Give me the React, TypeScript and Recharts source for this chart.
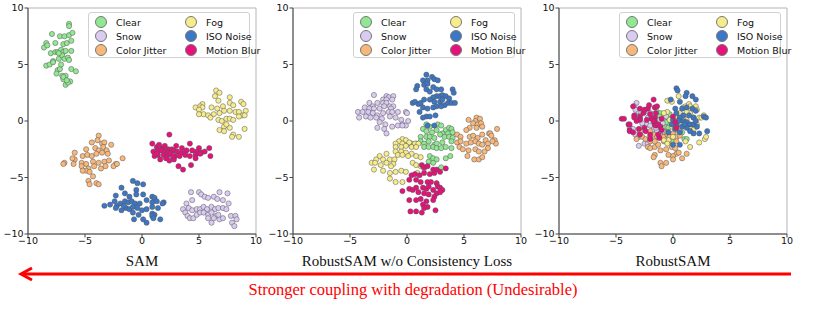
import React from 'react';
import { ScatterChart, Scatter, XAxis, YAxis, ReferenceArea } from 'recharts';

type Pt = [number, number];

// series (legend order is column-first, two columns)
const seriesNames = ['Clear', 'Snow', 'Color Jitter', 'Fog', 'ISO Noise', 'Motion Blur'];
const seriesColors = ['#92E892', '#DACBF2', '#F8B87C', '#F7EC8C', '#3C77C6', '#E6117A'];
const panelTitles = ['SAM', 'RobustSAM w/o Consistency Loss', 'RobustSAM'];
const axisTicks = [-10, -5, 0, 5, 10];

// ---- SAM ----
const samClear: Pt[] = [[-6.4,8.6],[-6.4,8.4],[-7.9,7.7],[-7.2,7.5],[-6.8,7.5],[-6.4,7.6],[-6.1,7.8],[-8.4,6.9],[-7.6,6.9],[-6.9,6.8],[-6.6,6.9],[-6.2,7.1],[-8.6,6.5],[-8.3,6.7],[-8.0,6.0],[-7.6,6.1],[-7.4,6.1],[-7.1,6.3],[-6.9,6.1],[-6.7,6.2],[-6.2,6.2],[-7.8,5.3],[-7.3,5.5],[-7.0,5.8],[-6.8,5.5],[-6.5,5.6],[-6.4,5.4],[-8.4,4.9],[-8.1,5.0],[-7.8,5.2],[-7.4,4.5],[-7.2,4.6],[-7.1,5.0],[-6.2,4.6],[-5.8,4.4],[-7.0,4.0],[-6.9,3.7],[-6.7,4.0],[-6.3,3.5],[-6.7,3.2],[-6.5,3.4],[-6.9,3.9],[-7.3,6.0],[-7.5,4.2],[-6.6,3.6]];
const samSnow: Pt[] = [[4.3,-6.3],[5.0,-6.3],[5.2,-6.5],[6.8,-6.3],[7.5,-6.4],[5.5,-6.7],[5.8,-6.8],[6.3,-6.7],[6.6,-6.9],[7.1,-7.0],[7.6,-7.3],[4.4,-7.0],[3.9,-7.3],[3.6,-7.8],[4.1,-7.7],[4.4,-7.9],[4.8,-7.8],[5.1,-7.8],[5.4,-7.6],[5.7,-7.8],[6.1,-7.6],[6.4,-7.8],[6.7,-7.7],[7.1,-7.7],[7.4,-7.8],[3.8,-8.1],[4.0,-8.4],[4.2,-8.6],[4.5,-8.6],[4.8,-8.3],[5.1,-8.1],[5.4,-8.1],[5.8,-8.3],[6.1,-8.1],[6.5,-8.4],[6.8,-8.7],[7.1,-8.6],[7.8,-8.4],[8.2,-8.4],[7.9,-9.0],[8.1,-9.3],[8.3,-8.7],[6.1,-9.0],[6.3,-8.6],[6.7,-8.3],[5.8,-8.6]];
const samJitter: Pt[] = [[-3.8,-1.3],[-4.4,-1.9],[-3.9,-1.7],[-3.5,-2.0],[-3.3,-1.9],[-2.7,-2.1],[-4.9,-2.5],[-4.1,-2.4],[-3.8,-2.6],[-3.4,-2.3],[-3.1,-2.6],[-5.9,-2.8],[-5.2,-3.1],[-4.8,-3.0],[-4.4,-3.1],[-4.0,-2.9],[-3.5,-2.8],[-5.9,-3.4],[-6.8,-3.7],[-6.1,-3.3],[-5.3,-3.7],[-4.9,-3.8],[-4.3,-3.6],[-3.8,-3.7],[-3.3,-3.6],[-2.9,-3.5],[-2.3,-3.8],[-1.7,-3.3],[-6.9,-3.8],[-6.0,-3.8],[-5.3,-4.0],[-4.7,-4.2],[-4.2,-4.0],[-3.6,-4.2],[-3.2,-4.0],[-2.5,-4.0],[-2.2,-3.8],[-4.9,-4.4],[-4.6,-4.5],[-4.3,-4.9],[-4.7,-5.3],[-4.6,-5.6],[-4.0,-5.5],[-3.8,-5.6],[-5.2,-4.4],[-3.0,-2.9]];
const samFog: Pt[] = [[6.5,2.7],[6.8,2.5],[7.7,2.1],[6.4,2.2],[6.7,1.8],[5.3,1.5],[5.1,1.3],[5.3,1.2],[4.7,1.2],[5.0,1.0],[6.1,1.2],[6.6,1.1],[7.1,1.3],[7.7,1.6],[8.0,1.4],[8.7,1.7],[8.9,1.5],[9.1,0.9],[8.8,0.5],[7.2,0.9],[6.8,0.7],[7.7,0.9],[8.2,0.8],[8.5,0.8],[5.4,0.6],[5.0,0.6],[5.8,0.5],[6.3,0.6],[6.7,0.1],[7.0,0.0],[7.4,0.2],[7.7,0.2],[8.0,0.1],[8.5,0.4],[9.0,0.5],[7.2,-0.5],[6.8,-0.8],[7.2,-0.9],[7.7,-0.6],[8.0,-1.2],[8.5,-1.4],[9.0,-0.7],[7.9,-1.4],[6.0,0.3],[7.4,-0.3]];
const samIso: Pt[] = [[-0.8,-5.3],[-0.4,-5.5],[0.1,-5.6],[-1.8,-5.9],[-0.5,-6.1],[-1.5,-6.4],[-1.1,-6.7],[-2.3,-6.6],[-0.5,-6.5],[0.1,-6.5],[0.9,-6.7],[1.1,-6.8],[1.9,-7.2],[-3.3,-7.5],[-2.8,-7.4],[-2.4,-7.1],[-2.2,-7.5],[-1.9,-7.3],[-1.5,-7.1],[-1.2,-7.2],[-0.9,-7.1],[-0.6,-7.3],[-0.2,-7.3],[0.4,-7.0],[0.9,-7.2],[1.3,-7.1],[1.8,-7.3],[-2.3,-7.7],[-1.8,-7.9],[-1.4,-7.7],[-1.1,-7.8],[-0.8,-7.6],[-0.4,-7.7],[0.0,-7.9],[0.4,-7.8],[0.9,-7.6],[1.4,-7.7],[-0.8,-8.1],[-0.3,-8.3],[0.9,-8.2],[1.1,-8.3],[-0.7,-8.7],[0.1,-8.7],[0.4,-9.0],[0.9,-8.4],[1.6,-8.7],[1.0,-8.6],[-1.6,-7.5]];
const samBlur: Pt[] = [[2.4,-1.2],[0.9,-2.0],[1.3,-2.3],[1.5,-2.1],[1.8,-2.4],[2.0,-2.2],[2.3,-2.5],[2.6,-2.5],[3.0,-2.2],[3.5,-2.4],[4.2,-2.0],[5.0,-2.4],[5.9,-2.4],[1.0,-2.7],[1.4,-2.6],[1.7,-2.6],[2.1,-2.7],[2.3,-2.8],[2.8,-2.6],[3.1,-2.7],[3.5,-2.8],[3.9,-2.6],[4.4,-2.6],[4.8,-2.7],[5.2,-2.8],[5.5,-2.7],[6.0,-3.1],[1.1,-3.1],[1.4,-3.0],[1.9,-3.0],[2.2,-3.1],[2.5,-2.9],[2.9,-3.1],[3.3,-3.1],[3.8,-3.0],[4.2,-3.1],[4.7,-3.0],[5.1,-2.9],[1.6,-3.4],[2.1,-3.3],[2.4,-3.5],[2.8,-3.4],[3.2,-4.0],[3.6,-4.3],[4.3,-3.9],[4.7,-3.3],[1.3,-2.9],[2.7,-3.1]];

// ---- RobustSAM w/o Consistency Loss ----
const woClear: Pt[] = [[1.7,-0.3],[2.0,-0.5],[2.7,-0.3],[3.0,-0.4],[3.4,-0.8],[3.7,-0.6],[3.9,-0.7],[1.4,-0.7],[1.7,-0.9],[2.2,-1.0],[2.6,-0.8],[3.1,-1.1],[3.6,-1.1],[4.0,-1.0],[1.2,-1.4],[1.7,-1.4],[2.0,-1.4],[2.4,-1.5],[2.9,-1.2],[3.3,-1.4],[3.7,-1.4],[4.0,-1.5],[0.8,-2.0],[1.2,-1.8],[1.5,-2.0],[1.9,-1.8],[2.4,-2.1],[2.6,-2.0],[3.1,-1.9],[3.9,-1.8],[1.5,-2.3],[1.9,-2.3],[2.3,-2.3],[2.6,-2.4],[3.0,-2.4],[3.4,-2.3],[3.9,-2.4],[2.0,-3.1],[2.3,-3.3],[2.6,-3.4],[1.9,-3.6],[2.3,-3.7],[3.0,-4.1],[3.4,-3.3],[3.8,-3.1],[0.4,-2.0],[0.1,-2.0],[-0.1,-1.8]];
const woSnow: Pt[] = [[-2.9,2.3],[-1.8,2.2],[-1.6,2.1],[-1.2,2.2],[-2.1,1.9],[-1.8,1.9],[-1.3,1.9],[-3.3,1.6],[-3.0,1.3],[-2.6,1.6],[-2.1,1.6],[-1.8,1.6],[-1.5,1.3],[-1.2,1.3],[-3.7,1.2],[-3.3,1.1],[-2.9,1.1],[-2.4,1.1],[-2.0,1.3],[-1.4,1.1],[-4.3,0.8],[-3.9,0.8],[-3.4,0.8],[-3.0,0.7],[-2.6,0.5],[-2.1,0.7],[-1.6,0.8],[-1.3,0.8],[-0.8,0.8],[-0.1,0.8],[0.0,0.7],[-4.2,0.3],[-3.6,0.4],[-3.2,0.3],[-2.7,0.3],[-2.2,0.2],[-1.5,0.4],[-1.0,0.3],[-0.5,0.1],[-0.4,-0.3],[-0.1,-0.4],[0.1,0.0],[-2.4,-0.1],[-1.9,-0.3],[-2.6,-0.6],[-2.0,-0.7],[-1.8,-1.1],[-0.8,-0.4],[-0.4,-0.4],[-1.3,-0.5]];
const woJitter: Pt[] = [[6.1,0.3],[5.4,0.1],[6.0,0.0],[6.4,0.2],[5.8,-0.2],[6.2,-0.3],[6.5,-0.2],[7.2,-1.1],[7.9,-0.7],[7.3,-1.1],[6.6,-0.5],[6.1,-0.6],[5.5,-0.6],[5.2,-0.8],[4.4,-1.2],[4.7,-1.4],[5.5,-1.4],[5.8,-1.3],[6.2,-1.5],[6.6,-1.2],[6.9,-1.7],[7.4,-1.3],[7.7,-1.7],[7.8,-2.0],[4.4,-1.9],[4.6,-2.3],[5.2,-2.0],[5.6,-1.9],[6.0,-1.8],[6.3,-2.0],[6.6,-2.1],[7.1,-2.0],[7.5,-1.8],[4.9,-2.5],[5.4,-2.6],[6.0,-2.5],[6.3,-2.7],[6.8,-2.7],[5.3,-3.1],[5.9,-3.4],[6.3,-3.4],[6.6,-3.2],[4.7,-1.8],[7.1,-2.4]];
const woFog: Pt[] = [[-0.4,-1.6],[-0.1,-1.7],[-0.7,-1.8],[-1.0,-2.0],[-0.4,-2.0],[0.2,-1.9],[0.7,-2.0],[1.0,-2.0],[-1.0,-2.3],[-0.5,-2.3],[-0.1,-2.2],[0.4,-2.3],[0.8,-2.3],[-1.0,-2.7],[-0.5,-2.7],[-0.1,-2.8],[0.4,-2.9],[-0.8,-3.0],[-0.4,-3.0],[0.1,-3.1],[0.8,-3.1],[1.2,-3.2],[-1.8,-2.9],[-2.4,-3.1],[-2.7,-3.4],[-2.1,-3.4],[-1.5,-3.4],[-1.1,-3.4],[-3.1,-3.7],[-2.8,-3.7],[-2.3,-3.9],[-1.8,-3.7],[-1.2,-3.8],[0.5,-3.7],[0.8,-3.9],[1.2,-4.0],[1.5,-4.2],[-2.9,-4.3],[-2.1,-4.4],[-1.5,-4.6],[-1.0,-4.5],[-0.5,-4.4],[-0.1,-4.5],[-1.5,-5.1],[-1.0,-5.4],[-0.4,-5.4],[0.9,-4.6],[-1.4,-4.0]];
const woIso: Pt[] = [[1.7,4.1],[2.2,3.9],[1.4,3.6],[1.8,3.6],[2.4,3.7],[2.7,3.6],[0.9,3.1],[1.5,3.2],[1.8,3.3],[2.3,3.0],[2.6,2.8],[0.8,2.8],[1.7,2.8],[2.0,2.6],[3.0,2.8],[4.0,2.8],[4.1,2.5],[2.6,2.2],[2.9,2.2],[3.1,2.3],[3.4,2.2],[3.7,2.0],[2.3,2.1],[0.5,1.6],[0.7,1.7],[1.0,1.5],[1.2,1.6],[1.5,1.9],[2.0,1.9],[2.4,1.7],[2.9,1.7],[3.3,1.4],[3.6,1.6],[3.9,1.6],[4.2,1.6],[1.4,1.2],[1.8,1.1],[2.3,1.2],[2.6,1.3],[3.0,1.3],[1.7,0.4],[2.0,0.4],[2.5,0.5],[1.4,0.3],[1.8,-0.4],[2.4,-0.4],[1.1,0.8],[3.1,1.9]];
const woBlur: Pt[] = [[1.3,-3.9],[1.5,-4.1],[1.8,-4.0],[2.3,-4.3],[2.6,-4.3],[2.9,-4.5],[3.4,-4.2],[0.4,-4.8],[0.7,-4.7],[1.1,-4.8],[1.5,-4.6],[2.0,-4.7],[2.4,-4.6],[0.2,-5.2],[0.8,-5.2],[1.2,-5.4],[1.8,-5.4],[2.1,-5.4],[2.6,-5.5],[2.7,-5.8],[2.9,-5.9],[3.1,-6.1],[-0.4,-6.2],[0.2,-6.0],[0.5,-6.1],[0.8,-5.9],[1.4,-5.9],[1.7,-6.0],[2.3,-6.1],[2.6,-6.4],[1.0,-6.3],[1.5,-6.4],[1.9,-6.5],[2.4,-6.7],[0.2,-7.0],[0.8,-7.0],[1.2,-6.9],[1.7,-7.1],[2.3,-7.0],[1.4,-7.4],[1.8,-7.6],[2.5,-7.9],[0.3,-8.0],[0.8,-8.0],[1.3,-8.1],[1.5,-7.7],[2.9,-6.3],[1.9,-5.8]];

// ---- RobustSAM ----
const rsClear: Pt[] = [[-1.4,0.8],[-1.1,0.7],[-0.8,0.5],[-0.7,0.3],[-0.5,0.2],[-0.8,0.1],[-1.0,-0.2],[-0.4,-0.3],[-1.3,-0.3],[-0.7,-0.9],[1.0,-1.6],[1.2,-1.6],[-0.1,-1.8],[-0.4,-0.6],[-1.7,-0.2],[0.6,0.1],[0.0,0.3],[-1.2,0.4],[-0.3,0.6],[0.3,-0.4],[-0.9,-0.5],[-0.2,-1.2],[0.8,-1.0],[-1.5,0.2],[-0.6,-0.1],[0.2,-0.8],[-1.1,-1.0],[0.5,-0.3]];
const rsSnow: Pt[] = [[-3.2,1.6],[-3.4,1.3],[-3.3,1.0],[-3.2,0.5],[-3.8,-0.6],[-3.5,-0.7],[-3.0,-2.2],[-3.3,-1.2],[-2.9,-1.1],[-2.6,-0.5],[-2.3,-0.3],[-2.0,-0.4],[-1.7,-0.8],[-2.5,-2.0],[-2.2,-2.0],[-1.9,-1.7],[-2.8,0.8],[-2.5,0.8],[-2.2,0.3],[-2.0,0.7],[-1.4,-0.9],[-1.1,-1.1],[-3.2,0.4],[-1.7,0.6],[-1.2,0.1],[-0.9,-0.2],[-0.6,0.4],[-2.7,-0.2],[-1.5,-0.6],[-0.7,-1.0]];
const rsJitter: Pt[] = [[-3.0,-1.4],[-3.2,-1.6],[-2.7,-1.4],[-2.4,-1.6],[-2.0,-1.4],[-1.7,-1.2],[-1.4,-1.4],[-1.1,-1.3],[-0.8,-1.4],[-0.5,-1.2],[-0.3,-1.4],[0.0,-1.1],[0.3,-1.4],[0.6,-1.3],[-2.2,-2.3],[-2.0,-2.4],[-1.6,-2.3],[-1.3,-2.1],[-1.1,-2.6],[-0.6,-2.5],[-0.1,-2.3],[0.2,-2.4],[0.3,-2.9],[0.5,-2.8],[1.2,-2.9],[0.8,-3.3],[0.0,-3.1],[-0.4,-3.0],[-1.6,-3.0],[-1.7,-3.2],[-1.1,-3.7],[-0.6,-3.7],[0.0,-3.4],[-2.0,-1.8],[-1.6,-1.8],[-0.8,-1.8],[-0.4,-1.8],[0.3,-1.8],[-2.9,-0.9],[-2.0,-0.9],[-1.0,-4.0],[-0.5,-1.0]];
const rsFog: Pt[] = [[-0.5,1.8],[-0.1,1.7],[0.5,2.2],[0.9,1.2],[1.1,1.3],[1.4,1.5],[1.5,1.3],[1.8,1.1],[2.0,1.3],[2.1,1.0],[2.3,0.3],[2.5,0.3],[2.7,0.5],[1.5,0.7],[1.2,0.8],[0.6,0.7],[0.3,0.5],[0.2,0.4],[-0.5,0.8],[-0.8,0.7],[-0.1,-0.5],[0.2,-0.6],[0.3,-0.8],[0.6,-0.9],[1.2,-0.3],[1.5,-0.5],[1.8,-0.8],[2.1,-0.3],[0.0,-1.4],[-0.4,-1.7],[-0.8,-1.7],[-0.5,-2.0],[1.1,-1.8],[1.5,-2.3],[2.3,-1.9],[2.8,-1.6],[2.9,-1.4],[1.8,0.3],[1.2,0.1],[0.9,0.3],[-0.3,0.1],[0.7,-0.2]];
const rsIso: Pt[] = [[0.3,2.9],[0.4,2.7],[1.2,2.5],[1.1,2.2],[1.7,2.2],[2.0,1.9],[-0.2,1.9],[0.6,1.7],[0.2,1.1],[0.3,0.7],[0.8,1.1],[1.2,1.2],[1.7,1.1],[2.0,0.9],[0.9,0.5],[1.4,0.5],[1.8,0.3],[2.7,0.4],[2.9,0.3],[0.6,0.3],[0.9,0.0],[1.2,-0.1],[1.5,-0.3],[1.8,-0.3],[2.1,-0.5],[0.0,0.1],[-0.1,-0.3],[0.3,-0.3],[0.8,-0.5],[0.2,-0.7],[0.6,-1.0],[1.2,-0.6],[1.8,-1.1],[2.3,-1.1],[3.0,-0.9],[0.0,-2.1],[0.6,-2.1],[1.5,-0.9],[2.0,0.0],[-0.4,-1.0],[0.5,0.0],[1.0,-0.3]];
const rsBlur: Pt[] = [[-4.5,0.2],[-4.3,0.2],[-3.9,-0.3],[-3.8,-0.3],[-3.8,-0.8],[-3.5,1.3],[-3.4,0.5],[-2.9,0.4],[-2.9,0.2],[-3.4,0.3],[-2.9,1.1],[-2.6,0.7],[-2.5,1.0],[-2.2,1.1],[-2.1,1.4],[-1.7,1.9],[-1.6,1.2],[-1.4,1.3],[-1.6,0.3],[-1.6,0.0],[-1.6,-0.3],[-1.5,-0.4],[-1.3,-0.3],[-1.1,-0.5],[-1.0,-0.8],[-1.2,-1.5],[-1.3,-1.2],[-2.5,-0.6],[-2.4,-0.9],[-2.0,-1.2],[-3.0,-0.7],[-2.9,-1.2],[-1.9,0.2],[-1.7,0.0],[-2.3,0.1],[-2.9,0.1],[-3.2,0.0],[0.0,0.4],[0.2,-0.1],[0.3,-0.6],[-2.0,-1.6],[-3.8,-0.9],[-3.5,-1.0],[-1.5,0.7],[-2.0,0.6],[-1.0,0.2]];

const panels: Pt[][][] = [
  [samClear, samSnow, samJitter, samFog, samIso, samBlur],
  [woClear, woSnow, woJitter, woFog, woIso, woBlur],
  [rsClear, rsSnow, rsJitter, rsFog, rsIso, rsBlur],
];

const SANS = '"DejaVu Sans", sans-serif';
const SERIF = '"Liberation Serif", "Times New Roman", serif';
const minus = (v: number) => String(v).replace('-', '\u2212');

const dot = (fill: string) => (p: any) => (
  <circle cx={p.cx} cy={p.cy} r={2.6} fill={fill} stroke="#555" strokeWidth={0.5} />
);

const PlotLegend: React.FC<{ left: number }> = ({ left }) => (
  <div style={{ position: 'absolute', left, top: 12, width: 162, height: 46, border: '1px solid #d0d0d0', borderRadius: 3, background: 'rgba(255,255,255,0.85)', boxSizing: 'border-box', fontFamily: SANS, fontSize: 9.5, color: '#111' }}>
    {seriesNames.map((name, i) => {
      const col = Math.floor(i / 3);
      const row = i % 3;
      return (
        <div key={name} style={{ position: 'absolute', left: 6 + col * 90, top: 2 + row * 14, height: 14, display: 'flex', alignItems: 'center', whiteSpace: 'nowrap' }}>
          <span style={{ width: 12, height: 12, borderRadius: 6, background: seriesColors[i], border: '0.5px solid #777', boxSizing: 'border-box', marginRight: 9 }} />
          {name}
        </div>
      );
    })}
  </div>
);

const Panel: React.FC<{ idx: number }> = ({ idx }) => {
  const left = idx === 0 ? 0 : idx === 1 ? 265 : 531;
  return (
    <div style={{ position: 'absolute', left, top: 0 }}>
      <ScatterChart width={270} height={272} margin={{ top: 8, right: 14, left: 0, bottom: 0 }}>
        <ReferenceArea x1={-10} x2={10} y1={-10} y2={10} fill="none" stroke="#b4b4b4" strokeWidth={1} ifOverflow="visible" />
        <XAxis type="number" dataKey="x" domain={[-10, 10]} ticks={axisTicks} allowDataOverflow height={38}
          tickFormatter={minus} tickSize={3.5} tickMargin={0} stroke="#444" tick={{ fontSize: 9.5, fontFamily: SANS, fill: '#111' }}
          label={{ value: panelTitles[idx], position: 'insideBottom', offset: 6, style: { fontFamily: SERIF, fontSize: 15, fill: '#111' } }} />
        <YAxis type="number" dataKey="y" domain={[-10, 10]} ticks={axisTicks} allowDataOverflow width={28}
          tickFormatter={minus} tickSize={3.5} tickMargin={1} stroke="#444" tick={{ fontSize: 9.5, fontFamily: SANS, fill: '#111' }} />
        {panels[idx].map((pts, i) => (
          <Scatter key={seriesNames[i]} name={seriesNames[i]} data={pts.map(([x, y]) => ({ x, y }))}
            shape={dot(seriesColors[i])} isAnimationActive={false} />
        ))}
      </ScatterChart>
      <PlotLegend left={88} />
    </div>
  );
};

export default function App() {
  return (
    <div style={{ position: 'absolute', left: 0, top: 0, width: 830, height: 310, background: '#fff', overflow: 'hidden' }}>
      <Panel idx={0} />
      <Panel idx={1} />
      <Panel idx={2} />
      <svg width={830} height={310} style={{ position: 'absolute', left: 0, top: 0, pointerEvents: 'none' }}>
        <line x1={791} y1={274} x2={23} y2={274} stroke="#ff0000" strokeWidth={3} />
        <polyline points="32,268 21,274 32,280" fill="none" stroke="#ff0000" strokeWidth={3} strokeLinejoin="miter" />
        <text x={413} y={295} textAnchor="middle" fontFamily={SERIF} fontSize={16.5} fill="#ff0000">
          Stronger coupling with degradation (Undesirable)
        </text>
      </svg>
    </div>
  );
}
